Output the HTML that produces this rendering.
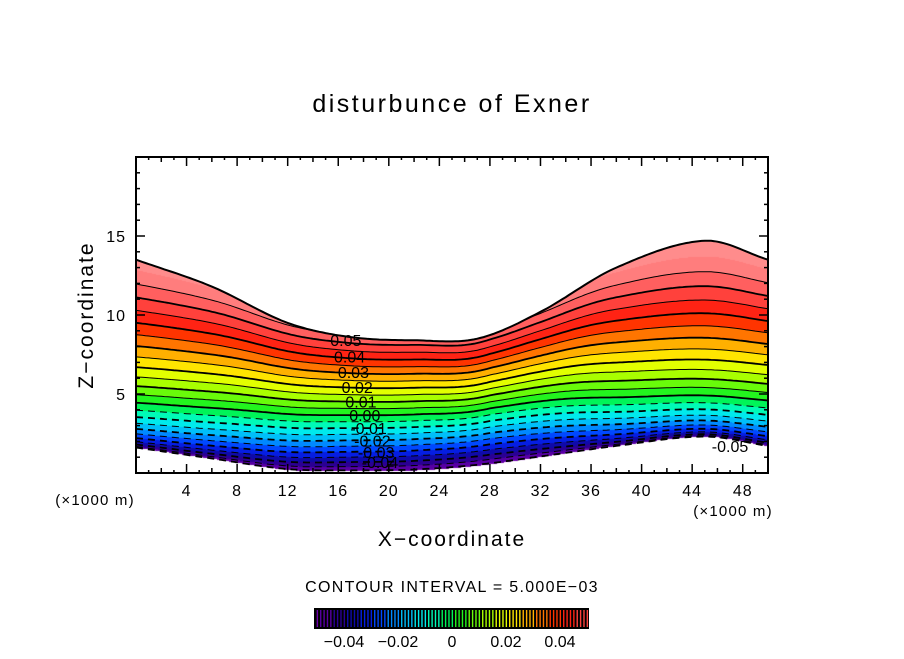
<!DOCTYPE html>
<html><head><meta charset="utf-8"><style>
body{margin:0;background:#fff;width:904px;height:654px;overflow:hidden;font-family:"Liberation Sans",sans-serif}
</style></head><body>
<svg id="s" width="904" height="654" xmlns="http://www.w3.org/2000/svg" font-family="Liberation Sans, sans-serif">
<text x="452" y="112" text-anchor="middle" font-size="25" letter-spacing="2.5">disturbunce of Exner</text>
<foreignObject x="136" y="157" width="632" height="316"><canvas id="cv" width="632" height="316" xmlns="http://www.w3.org/1999/xhtml" style="display:block"></canvas></foreignObject>
<g id="lines"></g>
<g id="labs"></g>
<rect x="136" y="157" width="632" height="316" fill="none" stroke="#000" stroke-width="2"/>
<g id="ticks"></g>
<text x="95" y="505" font-size="15" letter-spacing="1.2" text-anchor="middle">(×1000 m)</text>
<text x="733" y="516" font-size="15" letter-spacing="1.2" text-anchor="middle">(×1000 m)</text>
<text x="452" y="546" font-size="21" letter-spacing="2" text-anchor="middle">X−coordinate</text>
<text transform="translate(93,315) rotate(-90)" font-size="21" letter-spacing="2" text-anchor="middle">Z−coordinate</text>
<text x="452" y="592" font-size="16" letter-spacing="1.3" text-anchor="middle">CONTOUR INTERVAL = 5.000E−03</text>
<g id="cbar"></g>
</svg>
<script>
const xNodes=[0,6,12,17,22,27,32,38,45,50];
const topZ=[13.5,11.8,9.5,8.6,8.4,8.5,10.2,13.0,14.7,13.5];
const botZ=[1.6,0.9,0.2,0.1,0.15,0.45,1.0,1.7,2.3,1.7];
const levels=[];for(let i=-10;i<=11;i++)levels.push(i*0.005);
const labelLevels=[0.05,0.04,0.03,0.02,0.01,0.00,-0.01,-0.02,-0.03,-0.04];
const xTicks=[4,8,12,16,20,24,28,32,36,40,44,48];
const yTicks=[5,10,15];
const cbTicks=[-0.04,-0.02,0,0.02,0.04];
const vBottom=-0.052;
const NS="http://www.w3.org/2000/svg";
const X0=136,W=632,Y0=157,H=316;
const sx=x=>X0+x/50*W, sy=z=>Y0+H-z/20*H;
function interp(arr,x){const n=xNodes.length;let i=0;while(i<n-2&&x>xNodes[i+1])i++;
const slope=k=>{if(k===0)return (arr[1]-arr[0])/(xNodes[1]-xNodes[0]);if(k===n-1)return (arr[n-1]-arr[n-2])/(xNodes[n-1]-xNodes[n-2]);return (arr[k+1]-arr[k-1])/(xNodes[k+1]-xNodes[k-1]);};
const h=xNodes[i+1]-xNodes[i],t=(x-xNodes[i])/h;const m0=slope(i)*h,m1=slope(i+1)*h;const t2=t*t,t3=t2*t;
return (2*t3-3*t2+1)*arr[i]+(t3-2*t2+t)*m0+(-2*t3+3*t2)*arr[i+1]+(t3-t2)*m1;}
function params(x){const d=interp(topZ,x)-interp(botZ,x);let f=(d-8.2)/(12.4-8.2);f=Math.max(0,Math.min(1.1,f));return{vt:0.053+0.012*f,p:0.84-0.32*f};}
function val(x,z){const b=interp(botZ,x),t=interp(topZ,x);const q=(z-b)/(t-b);if(q<0||q>1)return null;const P=params(x);return vBottom+(P.vt-vBottom)*Math.pow(q,P.p);}
function zOf(x,v){const b=interp(botZ,x),t=interp(topZ,x),P=params(x);const r=(v-vBottom)/(P.vt-vBottom);if(r<0||r>1)return null;return b+(t-b)*Math.pow(r,1/P.p);}
const stops=[[-0.05,[110,0,170]],[-0.04,[20,0,140]],[-0.03,[0,40,255]],[-0.02,[0,170,255]],[-0.01,[0,255,230]],[0,[0,240,40]],[0.01,[140,255,0]],[0.02,[255,255,0]],[0.03,[255,150,0]],[0.04,[255,20,0]],[0.05,[255,80,80]],[0.06,[255,140,140]]];
function col(v){v=Math.floor(v/0.005)*0.005+0.0025;if(v<=stops[0][0])return stops[0][1];for(let i=0;i<stops.length-1;i++){if(v<=stops[i+1][0]){const t=(v-stops[i][0])/(stops[i+1][0]-stops[i][0]);return stops[i][1].map((c,k)=>Math.round(c+(stops[i+1][1][k]-c)*t));}}return stops[stops.length-1][1];}
const cv=document.getElementById('cv'),ctx=cv.getContext('2d'),img=ctx.createImageData(W,H);
for(let px=0;px<W;px++){const x=(px+0.5)/W*50;for(let py=0;py<H;py++){const z=(H-py-0.5)/H*20;const v=val(x,z);const o=(py*W+px)*4;if(v===null){img.data[o+3]=0;continue;}const c=col(v);img.data[o]=c[0];img.data[o+1]=c[1];img.data[o+2]=c[2];img.data[o+3]=255;}}
ctx.putImageData(img,0,0);
const lg=document.getElementById('lines');
function addPath(d,w,dash){const p=document.createElementNS(NS,'path');p.setAttribute('d',d);p.setAttribute('fill','none');p.setAttribute('stroke','#000');p.setAttribute('stroke-width',w);if(dash)p.setAttribute('stroke-dasharray',dash);


lg.appendChild(p);}
let dt='';for(let x=0;x<=50.001;x+=0.25){dt+=(x?'L':'M')+sx(x).toFixed(1)+','+sy(interp(topZ,x)).toFixed(1);}
addPath(dt,2,null);
levels.forEach(v=>{let d='',pen=false;for(let x=0;x<=50.001;x+=0.25){const z=zOf(x,v);if(z===null){pen=false;continue;}d+=(pen?'L':'M')+sx(x).toFixed(1)+','+sy(z).toFixed(1);pen=true;}
if(d){const major=Math.abs(Math.round(v/0.01)*0.01-v)<1e-6;addPath(d,major?1.8:1,v<-1e-6?'7,5':null);}});
const lb=document.getElementById('labs');
labelLevels.forEach((v,i)=>{const x=14.8+i*0.3;const z=zOf(x,v);if(z===null)return;const t=document.createElementNS(NS,'text');t.setAttribute('x',sx(x+1.8));t.setAttribute('y',sy(z)+6);t.setAttribute('font-size','16');t.setAttribute('text-anchor','middle');t.textContent=v.toFixed(2);


lb.appendChild(t);});
{const t=document.createElementNS(NS,'text');t.setAttribute('x',730);t.setAttribute('y',452);t.setAttribute('font-size','16');t.setAttribute('text-anchor','middle');t.textContent='-0.05';


lb.appendChild(t);}
const tg=document.getElementById('ticks');
function ln(x1,y1,x2,y2){const l=document.createElementNS(NS,'line');l.setAttribute('x1',x1);l.setAttribute('y1',y1);l.setAttribute('x2',x2);l.setAttribute('y2',y2);l.setAttribute('stroke','#000');l.setAttribute('stroke-width',1.5);


tg.appendChild(l);}
for(let x=1;x<50;x++){const L=x%4===0?9:(x%2===0?5:3);ln(sx(x),473,sx(x),473-L);ln(sx(x),157,sx(x),157+L);}
for(let z=1;z<20;z++){const L=z%5===0?9:4;ln(136,sy(z),136+L,sy(z));ln(768,sy(z),768-L,sy(z));}
function txt(x,y,s,anchor,name){const t=document.createElementNS(NS,'text');t.setAttribute('x',x);t.setAttribute('y',y);t.setAttribute('font-size','16');t.setAttribute('letter-spacing','1');t.setAttribute('text-anchor',anchor);t.textContent=s;


tg.appendChild(t);}
xTicks.forEach(x=>txt(sx(x),496,String(x),'middle','x-tick-label'));
yTicks.forEach(z=>txt(126,sy(z)+6,String(z),'end','y-tick-label'));
const cb=document.getElementById('cbar');const cx=v=>452+v/0.02*54;
const bg=document.createElementNS(NS,'rect');bg.setAttribute('x',314);bg.setAttribute('y',608);bg.setAttribute('width',275);bg.setAttribute('height',21);bg.setAttribute('fill','#000');


cb.appendChild(bg);
for(let v=-0.0505;v<0.0505;v+=0.00125){const c=col(v);const r=document.createElementNS(NS,'rect');r.setAttribute('x',cx(v)+1);r.setAttribute('y',610);r.setAttribute('width',1.4);r.setAttribute('height',17);r.setAttribute('fill','rgb('+c.join(',')+')');


cb.appendChild(r);}
cbTicks.forEach(v=>{const t=document.createElementNS(NS,'text');t.setAttribute('x',cx(v));t.setAttribute('y',647);t.setAttribute('font-size','16');t.setAttribute('text-anchor','middle');t.textContent=v===0?'0':(v<0?'−':'')+Math.abs(v).toFixed(2);


cb.appendChild(t);});
</script>
</body></html>
